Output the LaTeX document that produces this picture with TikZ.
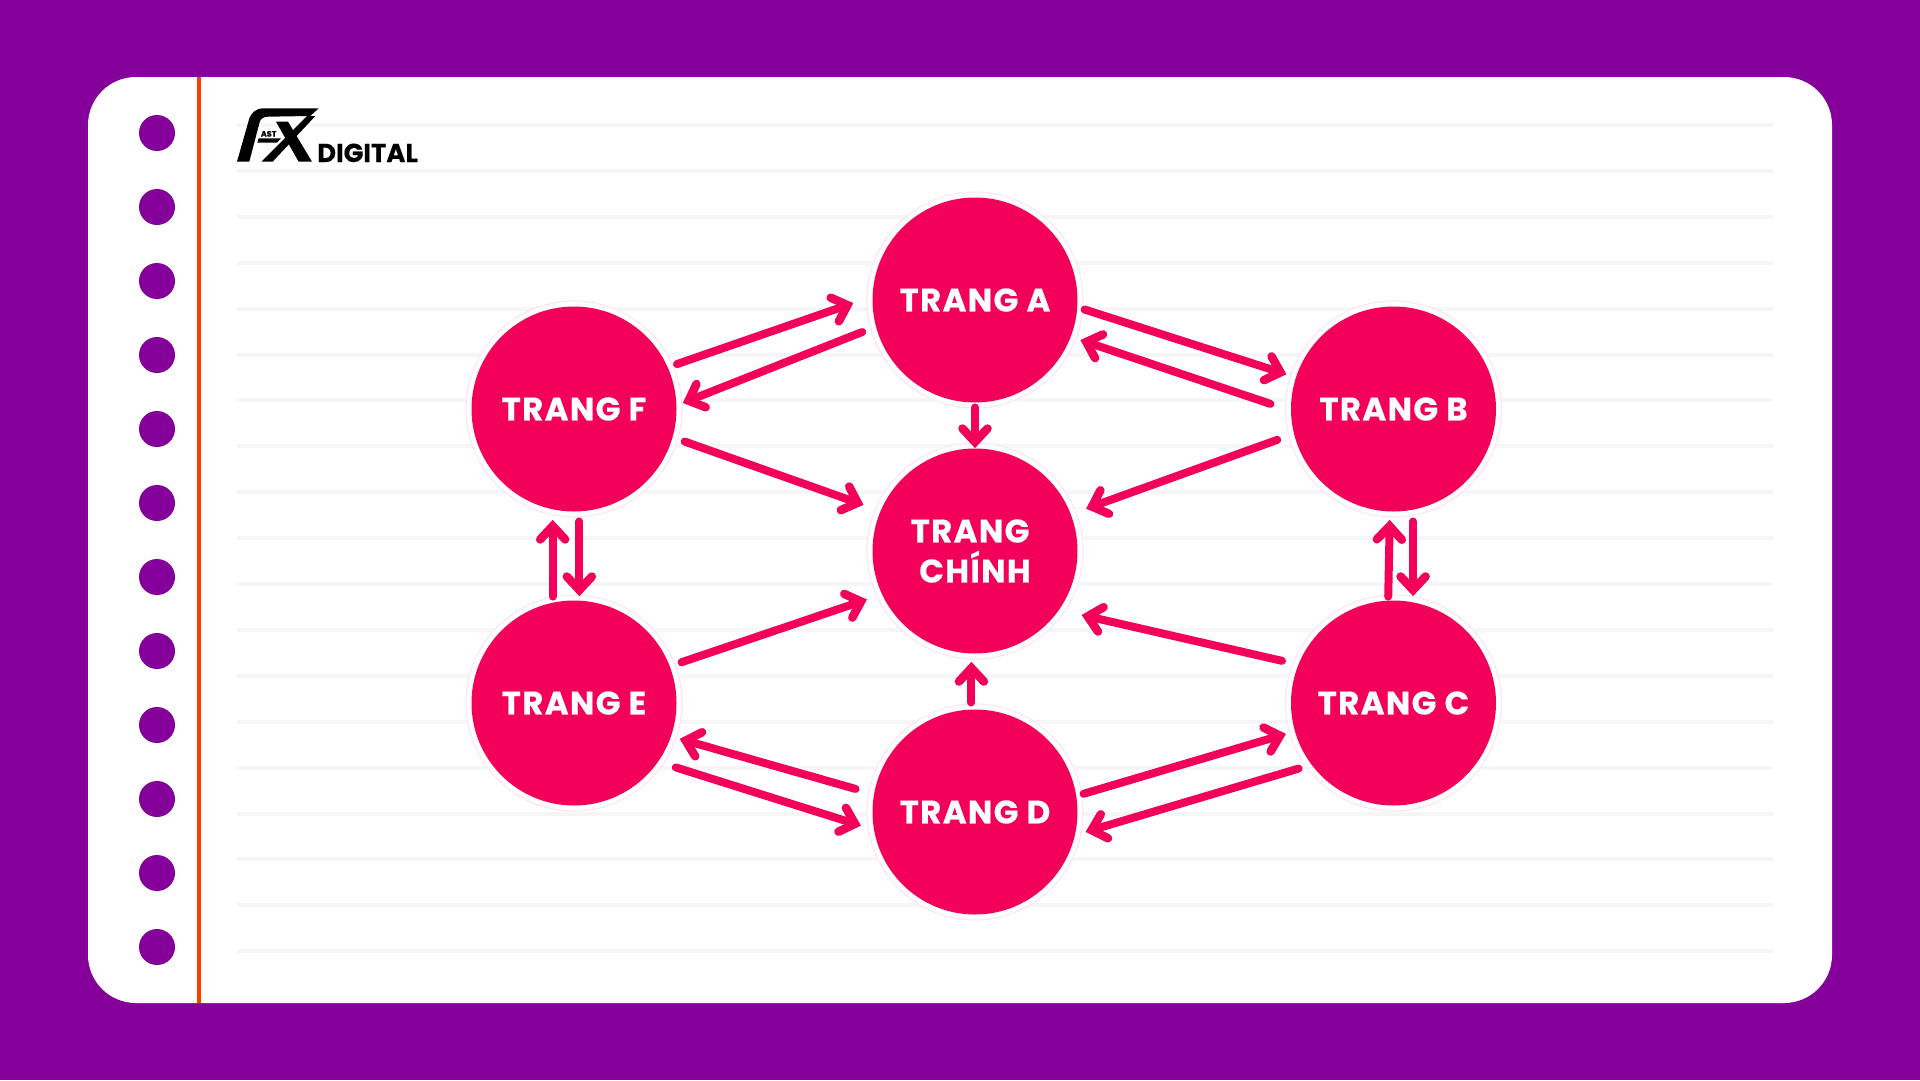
\documentclass[tikz,border=0pt]{standalone}
\usepackage{fontspec}
\usetikzlibrary{arrows.meta}
\newfontfamily\pop[LetterSpace=4,BoldFeatures={FakeBold=0.5}]{Poppins}
\newfontfamily\popl[BoldFeatures={FakeBold=0.3}]{Poppins}
\definecolor{bgpurple}{HTML}{85009B}
\definecolor{pinkc}{HTML}{F2005A}
\definecolor{halo}{HTML}{FCE8EF}
\definecolor{rulec}{HTML}{F6F6F6}
\definecolor{marginc}{HTML}{FF3D00}
\pgfdeclarearrow{
  name=Chevron,
  parameters={chevron},
  setup code={
    \pgfarrowssettipend{0pt}
    \pgfarrowssetlineend{-7pt}
    \pgfarrowssetvisualtipend{0pt}
    \pgfarrowssetbackend{-24pt}
    \pgfarrowssetvisualbackend{-24pt}
    \pgfarrowshullpoint{0pt}{0pt}
    \pgfarrowsupperhullpoint{-24pt}{17pt}
  },
  drawing code={
    \pgfsetlinewidth{8.5pt}
    \pgfsetroundcap
    \pgfsetmiterjoin
    \pgfpathmoveto{\pgfqpoint{-20pt}{12.5pt}}
    \pgfpathlineto{\pgfqpoint{-6.6pt}{0pt}}
    \pgfpathlineto{\pgfqpoint{-20pt}{-12.5pt}}
    \pgfusepathqstroke
  }
}
\tikzset{
  x=1pt,y=-1pt,
  page/.style={circle,fill=pinkc,minimum size=205pt,inner sep=0pt,outer sep=0pt,text=white,align=center,
     font=\pop\bfseries\fontsize{32.5}{40}\selectfont},
  haloring/.style={draw=halo,fill=white,line width=1.2pt},
  arrowline/.style={draw=pinkc,line width=8pt,line cap=round,-{Chevron}},
  ruleline/.style={draw=rulec,line width=4pt},
}
\begin{document}
\begin{tikzpicture}
\useasboundingbox (0,0) rectangle (1920,1080);
\fill[bgpurple] (0,0) rectangle (1920,1080);
\fill[white,rounded corners=48pt] (88,77) rectangle (1832,1003);
\foreach \i in {0,...,18}
  \draw[ruleline] (237,{125+45.9*\i}) -- (1773,{125+45.9*\i});
\draw[marginc,line width=4pt] (199,77) -- (199,1003);
\foreach \i in {0,...,11}
  \fill[bgpurple] (157,{133+74*\i}) circle (18pt);

% logo
\begin{scope}[shift={(232,100)},x=0.3333pt,y=-0.3333pt]
  \fill[black] (15,185) -- (52,185) -- (82,70) .. controls (85,55) and (95,50) .. (110,50) -- (235,48) -- (260,25) -- (95,25) .. controls (70,25) and (58,40) .. (52,55) -- cycle;
  \fill[black] (80,115) -- (147,115) -- (135,128) -- (76,128) -- cycle;
  \fill[black] (132,65) -- (168,65) -- (240,185) -- (200,185) -- cycle;
  \fill[black] (88,185) -- (122,185) -- (250,48) -- (225,48) -- cycle;
  \node[anchor=base,inner sep=0pt,font=\popl\bfseries\fontsize{8}{8}\selectfont] (ast) at (110,110) {AST};
\end{scope}
\node[anchor=base west,inner sep=0pt,font=\popl\bfseries\fontsize{25.9}{25}\selectfont] (digital) at (317,162) {DIGITAL};

% halos
\foreach \p in {(975,300),(574,409),(1393.5,409),(975,551),(574,703),(1393.5,703),(975,812)}
  \draw[haloring] \p circle (108pt);

% pages
\node[page] (A) at (975,300) {\raisebox{-1pt}{TRANG A}};
\node[page] (F) at (574,409) {\raisebox{-1pt}{TRANG F}};
\node[page] (B) at (1393.5,409) {\raisebox{-1pt}{TRANG B}};
\node[page] (M) at (975,551) {TRANG\hspace*{10pt}\\CHÍNH};
\node[page] (E) at (574,703) {\raisebox{-1pt}{TRANG E}};
\node[page] (C) at (1393.5,703) {\raisebox{-1pt}{TRANG C}};
\node[page] (D) at (975,812) {\raisebox{-1pt}{TRANG D}};

% connectors
\draw[arrowline,shorten <=9.9pt,shorten >=20pt] (F.24.5) -- (A.178.6);
\draw[arrowline,shorten <=14.8pt,shorten >=6.5pt] (A.195.6) -- (F.2.6);
\draw[arrowline,shorten <=12.9pt,shorten >=17.8pt] (F.-16.2) -- (M.157.8);
\draw[arrowline,shorten <=5pt,shorten >=0pt] (A.270) -- (M.90);
\draw[arrowline,shorten <=7.7pt,shorten >=9.7pt] (A.-4.9) -- (B.162.4);
\draw[arrowline,shorten <=21.7pt,shorten >=9.9pt] (B.181.7) -- (A.339.7);
\draw[arrowline,shorten <=17.9pt,shorten >=16.1pt] (B.194.6) -- (M.21.5);
\draw[arrowline,shorten <=4.1pt,shorten >=8.1pt] (C.93.1) -- (B.268.1);
\draw[arrowline,shorten <=11.9pt,shorten >=5.9pt] (B.-79.1) -- (C.79.1);
\draw[arrowline,shorten <=16.9pt,shorten >=22.9pt] (C.158.9) -- (M.325.2);
\draw[arrowline,shorten <=13.6pt,shorten >=10.8pt] (C.217.9) -- (D.347.7);
\draw[arrowline,shorten <=7.6pt,shorten >=9.1pt] (D.9.4) -- (C.196.6);
\draw[arrowline,shorten <=7.1pt,shorten >=8.1pt] (D.92.6) -- (M.268.1);
\draw[arrowline,shorten <=19.2pt,shorten >=8.8pt] (D.170.8) -- (E.341.6);
\draw[arrowline,shorten <=18.7pt,shorten >=13.4pt] (E.-35.2) -- (D.190.7);
\draw[arrowline,shorten <=12.5pt,shorten >=15.7pt] (E.21.1) -- (M.205.2);
\draw[arrowline,shorten <=10.1pt,shorten >=4.1pt] (F.-87.8) -- (E.87.8);
\draw[arrowline,shorten <=6.2pt,shorten >=10.2pt] (E.102.4) -- (F.258.8);
\end{tikzpicture}
\end{document}
